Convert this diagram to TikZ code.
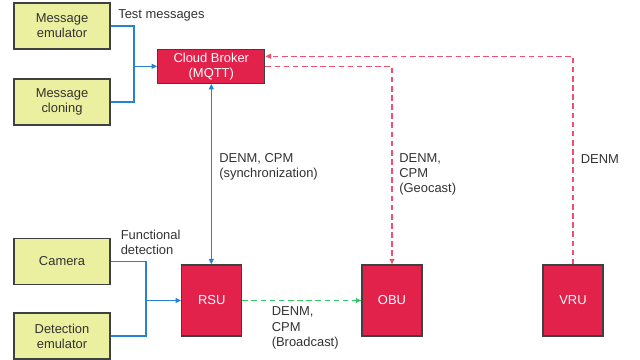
\documentclass[tikz,border=0pt]{standalone}
\usepackage{fontspec}
\setmainfont{Liberation Sans}
\usepackage{tikz}
\usetikzlibrary{arrows.meta, positioning, calc}

\definecolor{boxyellow}{RGB}{235,240,160}
\definecolor{boxred}{RGB}{227,34,76}
\definecolor{linkblue}{RGB}{40,130,210}
\definecolor{linkgreen}{RGB}{50,200,100}
\definecolor{linkred}{RGB}{240,80,112}
\definecolor{txtgray}{RGB}{50,50,50}

\begin{document}
\begin{tikzpicture}[
    x=0.025cm, y=-0.025cm,
    font=\fontsize{9.2}{10.8}\selectfont,
    source/.style={draw=black!75, fill=boxyellow, text=txtgray, line width=0.8pt, minimum width=2.4cm, minimum height=1.15cm, align=center, inner sep=1pt},
    unit/.style={draw=black!75, fill=boxred, text=white, line width=0.8pt, minimum width=1.5cm, minimum height=1.775cm, inner sep=1pt},
    lbl/.style={text=txtgray, align=left, inner sep=0pt},
    wire/.style={linkblue, line width=1pt},
    arrow/.style={-{Triangle[length=4pt,width=3.5pt]}, linkblue, line width=1pt},
    arrow_both/.style={{Triangle[length=4pt,width=3.5pt]}-{Triangle[length=4pt,width=3.5pt]}, linkblue, line width=1pt},
    geo/.style={-{Triangle[length=4pt,width=3.5pt]}, linkred, line width=1pt, dash pattern=on 4pt off 2.5pt},
    bcast/.style={-{Triangle[length=4pt,width=3.5pt]}, linkgreen, line width=1pt, dash pattern=on 4pt off 2.5pt},
]
\useasboundingbox (0,0) rectangle (640,360);

% sources
\node[source] (memu) at (62,26) {Message\\emulator};
\node[source] (mclone) at (62,102) {Message\\cloning};
\node[source] (cam) at (62,261.3) {Camera};
\node[source] (detemu) at (62,336) {Detection\\emulator};

% broker and units
\node[unit, minimum width=2.675cm, minimum height=0.85cm, align=center] (broker) at (211.3,66.3) {Cloud Broker\\(MQTT)};
\node[unit] (rsu) at (211.7,300.5) {RSU};
\node[unit] (obu) at (392,300.5) {OBU};
\node[unit] (vru) at (573,300.5) {VRU};

\coordinate (tmjoin) at (134,66.3);
\coordinate (fdjoin) at (146,300.5);

% test messages
\draw[wire] (memu.east) -| (tmjoin);
\draw[wire] (mclone.east) -| (tmjoin);
\draw[arrow] (tmjoin) -- (broker.west);
\node[lbl, anchor=west] (tmtext) at (118,15) {Test messages};

% detection
\draw[wire] (cam.east) -| (fdjoin);
\draw[wire] (detemu.east) -| (fdjoin);
\draw[arrow] (fdjoin) -- (rsu.west);
\node[lbl, anchor=west] (fdtext) at (120.5,242.5) {Functional\\detection};

% broker links
\draw[arrow_both] (broker.south) -- (broker.south |- rsu.north);
\node[lbl, anchor=west] (synctext) at (219,166.5) {DENM, CPM\\(synchronization)};

\draw[geo] (broker.east) -| (obu.north);
\node[lbl, anchor=west] (geotext) at (399,174.5) {DENM,\\CPM\\(Geocast)};

\draw[geo] (vru.north) |- ([yshift=0.25cm]broker.east);
\node[lbl, anchor=west] (vrutext) at (580.5,159) {DENM};

% broadcast
\draw[bcast] (rsu.east) -- (obu.west);
\node[lbl, anchor=west] (bctext) at (271.5,328) {DENM,\\CPM\\(Broadcast)};

\end{tikzpicture}
\end{document}
